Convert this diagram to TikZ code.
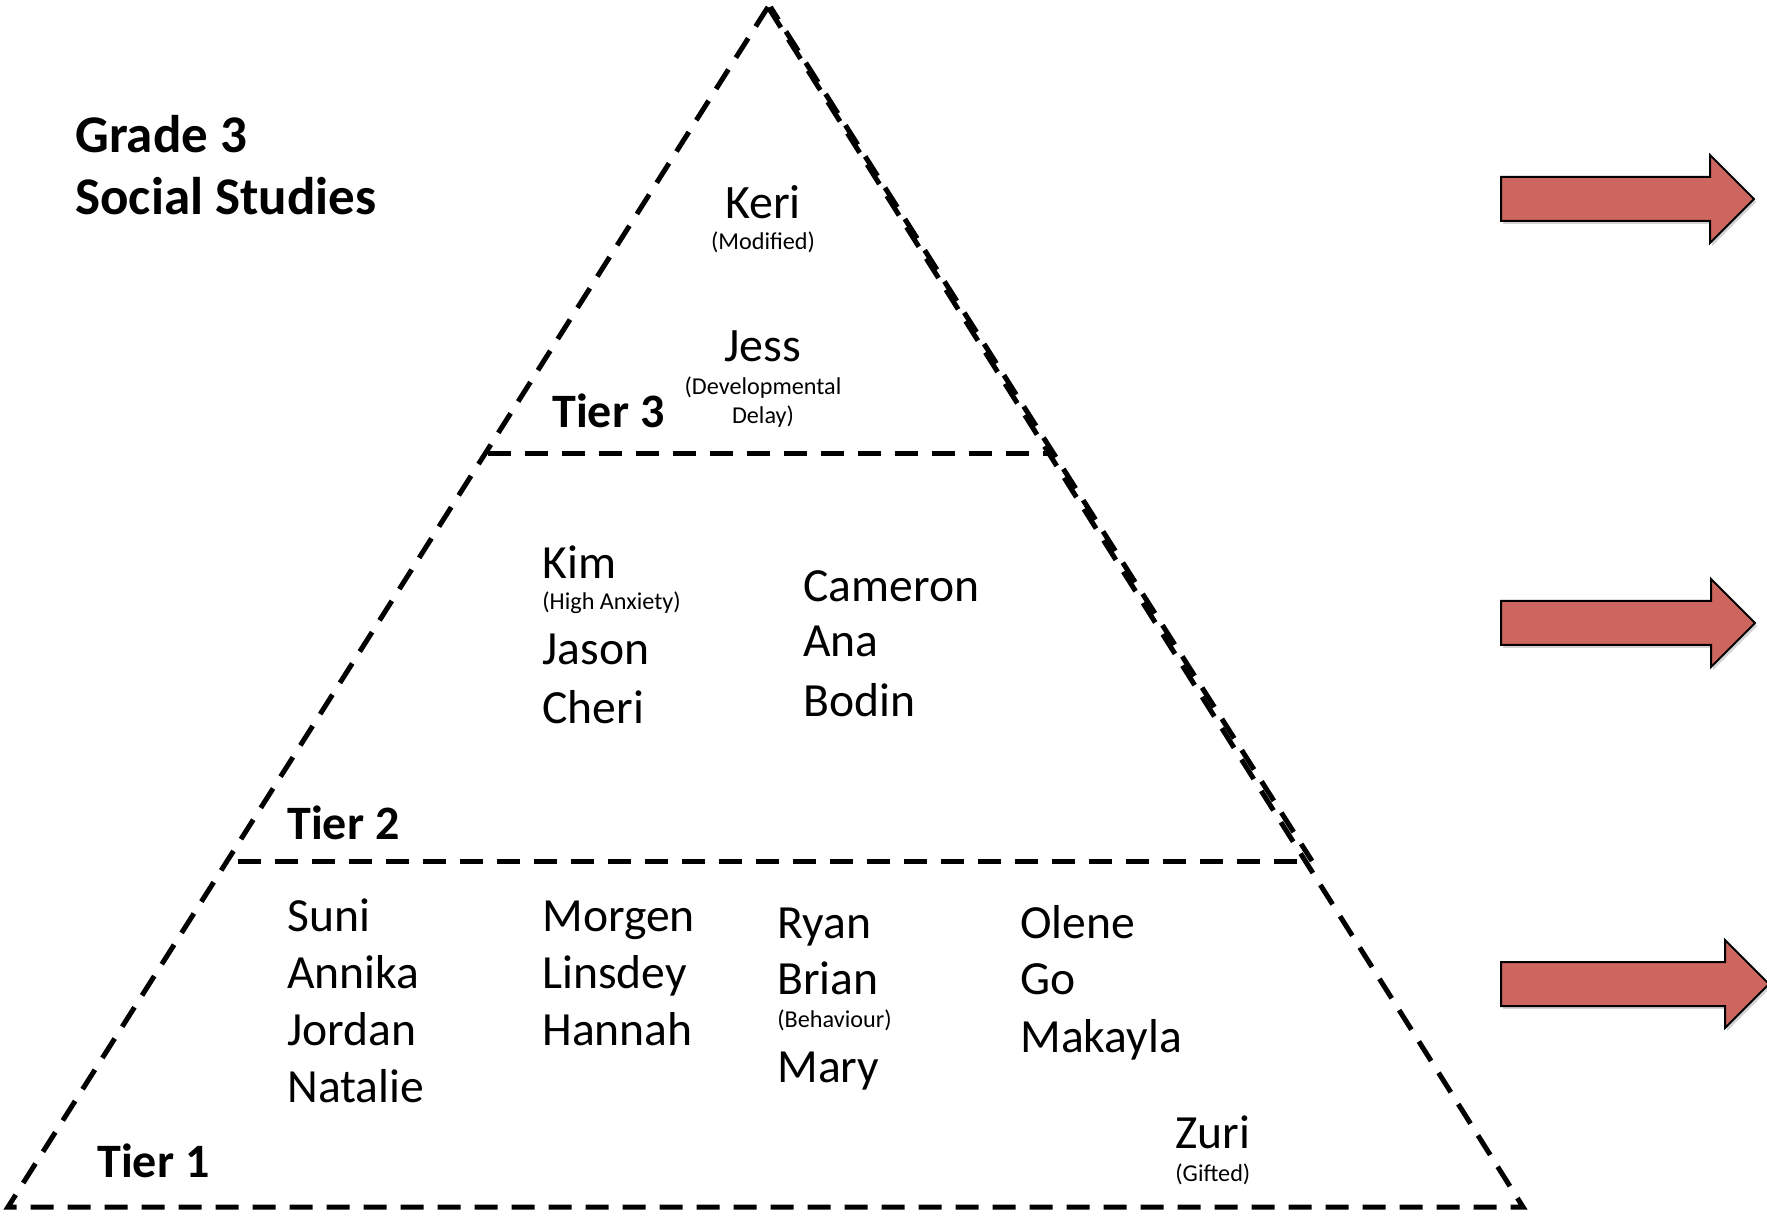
\documentclass[tikz,border=0pt]{standalone}
\usepackage{fontspec}
\setmainfont{Carlito}
\usetikzlibrary{shadows}

\definecolor{arrowred}{RGB}{205,102,94}

\tikzset{
  edge/.style={line width=2.5pt,dash pattern=on 11.5pt off 7pt},
  pupil/.style={anchor=base west,inner sep=0pt,font=\fontsize{23.8}{28}\selectfont},
  toppupil/.style={anchor=base,inner sep=0pt,font=\fontsize{24}{28}\selectfont},
  note/.style={anchor=base west,inner sep=0pt,font=\fontsize{12.1}{14}\selectfont},
  tier/.style={anchor=base west,inner sep=0pt,font=\fontsize{24}{28}\selectfont\bfseries},
  title/.style={anchor=base west,inner sep=0pt,font=\fontsize{26.5}{31}\selectfont\bfseries},
  nextarrow/.style={fill=arrowred,draw=black,line width=1pt,line join=miter,
    drop shadow={opacity=.35,shadow xshift=1pt,shadow yshift=-1.5pt}}
}

\begin{document}
\begin{tikzpicture}[x=.5pt,y=-.5pt]
  \useasboundingbox (0,0) rectangle (1767,1218);

  % pyramid
  \coordinate (apex) at (768,7);
  \coordinate (bl) at (8,1207);
  \coordinate (br) at (1523,1207);
  \draw[edge] (apex) -- (bl) -- (br) -- cycle;
  \draw[edge,dash phase=4pt] ([xshift=1.2pt]apex) -- (1312,861);
  \coordinate (t3l) at (488,454);
  \coordinate (t3r) at (1048,454);
  \coordinate (t2l) at (238,861);
  \coordinate (t2r) at (1311,861);
  \draw[edge] (t3l) -- (t3r);
  \draw[edge] (t2l) -- (t2r);

  % title
  \node[title] (grade) at (75,153) {Grade 3};
  \node[title] (subject) at (75,215) {Social Studies};

  % tier 3
  \node[toppupil] (keri) at (763,219) {Keri};
  \node[note,anchor=base] (keri-n) at (763,250) {(Modified)};
  \node[toppupil] (jess) at (763,362) {Jess};
  \node[note,anchor=base] (jess-n1) at (763,395) {(Developmental};
  \node[note,anchor=base] (jess-n2) at (763,424) {Delay)};
  \node[tier] (tier3) at (552,428) {Tier 3};

  % tier 2
  \node[pupil] (kim) at (542,579) {Kim};
  \node[note] (kim-n) at (542,610) {(High Anxiety)};
  \node[pupil] (jason) at (542,665) {Jason};
  \node[pupil] (cheri) at (542,724) {Cheri};
  \foreach \who/\y in {Cameron/602,Ana/657,Bodin/717}
    \node[pupil] (\who) at (803,\y) {\who};
  \node[tier] (tier2) at (287,840) {Tier 2};

  % tier 1
  \foreach \who [count=\i] in {Suni,Annika,Jordan,Natalie}
    \node[pupil] (\who) at (287,874+57*\i) {\who};
  \foreach \who [count=\i] in {Morgen,Linsdey,Hannah}
    \node[pupil] (\who) at (542,874+57*\i) {\who};
  \node[pupil] (ryan) at (777,938) {Ryan};
  \node[pupil] (brian) at (777,994) {Brian};
  \node[note] (brian-n) at (777,1027) {(Behaviour)};
  \node[pupil] (mary) at (777,1082) {Mary};
  \foreach \who/\y in {Olene/938,Go/994,Makayla/1052}
    \node[pupil] (\who) at (1020,\y) {\who};
  \node[pupil] (zuri) at (1175,1148) {Zuri};
  \node[note] (zuri-n) at (1175,1181) {(Gifted)};
  \node[tier] (tier1) at (97,1177) {Tier 1};

  % arrows
  \foreach \y/\b/\t in {199/1710/1754,623/1711/1755,984/1725/1769}
    \filldraw[nextarrow] (1501,\y-22) -- (\b,\y-22) -- (\b,\y-44) -- (\t,\y)
      -- (\b,\y+44) -- (\b,\y+22) -- (1501,\y+22) -- cycle;
\end{tikzpicture}
\end{document}
